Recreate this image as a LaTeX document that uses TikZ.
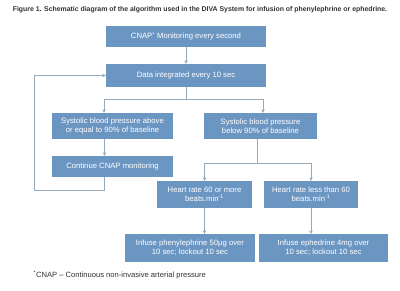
\documentclass[tikz,border=0pt]{standalone}
\usepackage{fontspec}
\setmainfont{Liberation Sans}
\usetikzlibrary{arrows.meta}
\definecolor{boxblue}{RGB}{108,150,194}
\definecolor{linegray}{RGB}{150,170,190}
\definecolor{textgray}{RGB}{50,50,50}
\tikzset{
  stepbox/.style={fill=boxblue, text=white, align=center, inner sep=1pt,
    font=\fontsize{7.7}{9}\selectfont},
  conn/.style={draw=linegray, line width=0.7pt},
  arr/.style={conn, -{Stealth[length=3.5pt,width=3.5pt]}}
}
\begin{document}
\begin{tikzpicture}[x=1pt, y=-1pt]
  \useasboundingbox (0,0) rectangle (400,290);
  \node[text=textgray, font=\bfseries\fontsize{6.9}{8}\selectfont] (title) at (200,10)
    {Figure 1. Schematic diagram of the algorithm used in the DIVA System for infusion of phenylephrine or ephedrine.};

  % boxes
  \node[stepbox, minimum width=160pt, minimum height=21pt] (cnap) at (186,36.5) {CNAP\textsuperscript{*} Monitoring every second};
  \node[stepbox, minimum width=160pt, minimum height=23pt] (data) at (186,75.5) {Data integrated every 10 sec};
  \node[stepbox, minimum width=121pt, minimum height=26pt] (sbpabove) at (112.5,126) {Systolic blood pressure above\\or equal to 90\% of baseline};
  \node[stepbox, minimum width=113pt, minimum height=26pt] (sbpbelow) at (260.5,126) {Systolic blood pressure\\below 90\% of baseline};
  \node[stepbox, minimum width=121pt, minimum height=21pt] (cont) at (112.5,166.5) {Continue CNAP monitoring};
  \node[stepbox, minimum width=95pt, minimum height=27pt] (hrhigh) at (204.5,194.5) {Heart rate 60 or more\\beats.min\textsuperscript{-1}};
  \node[stepbox, minimum width=94pt, minimum height=27pt] (hrlow) at (311,194.5) {Heart rate less than 60\\beats.min\textsuperscript{-1}};
  \node[stepbox, minimum width=130pt, minimum height=28pt] (phenyl) at (190,248) {Infuse phenylephrine 50μg over\\10 sec; lockout 10 sec};
  \node[stepbox, minimum width=129pt, minimum height=28pt] (ephed) at (323.5,248) {Infuse ephedrine 4mg over\\10 sec; lockout 10 sec};

  % connectors
  \draw[arr] (cnap) -- (data);
  \coordinate (splitbp) at (186,99);
  \draw[conn] (data) -- (splitbp);
  \draw[arr] (splitbp) -| ([xshift=-8.5pt]sbpabove.north);
  \draw[arr] (splitbp) -| ([xshift=2.5pt]sbpbelow.north);
  \draw[arr] ([xshift=-8pt]sbpabove.south) -- ([xshift=-8pt]cont.north);
  \coordinate (loopcorner) at (34,190);
  \draw[arr] ([xshift=-8pt]cont.south) |- (loopcorner) |- (data.west);
  \coordinate (splithr) at (257,163);
  \draw[conn] ([xshift=-3.5pt]sbpbelow.south) -- (splithr);
  \draw[arr] (splithr) -| (hrhigh.north);
  \draw[arr] (splithr) -| (hrlow.north);
  \draw[arr] (hrhigh.south) -- (hrhigh.south |- phenyl.north);
  \draw[arr] (hrlow.south) -- (hrlow.south |- ephed.north);

  \node[anchor=west, text=textgray, font=\fontsize{7.6}{9}\selectfont] (note) at (30,275)
    {\textsuperscript{*}CNAP – Continuous non-invasive arterial pressure};
\end{tikzpicture}
\end{document}
